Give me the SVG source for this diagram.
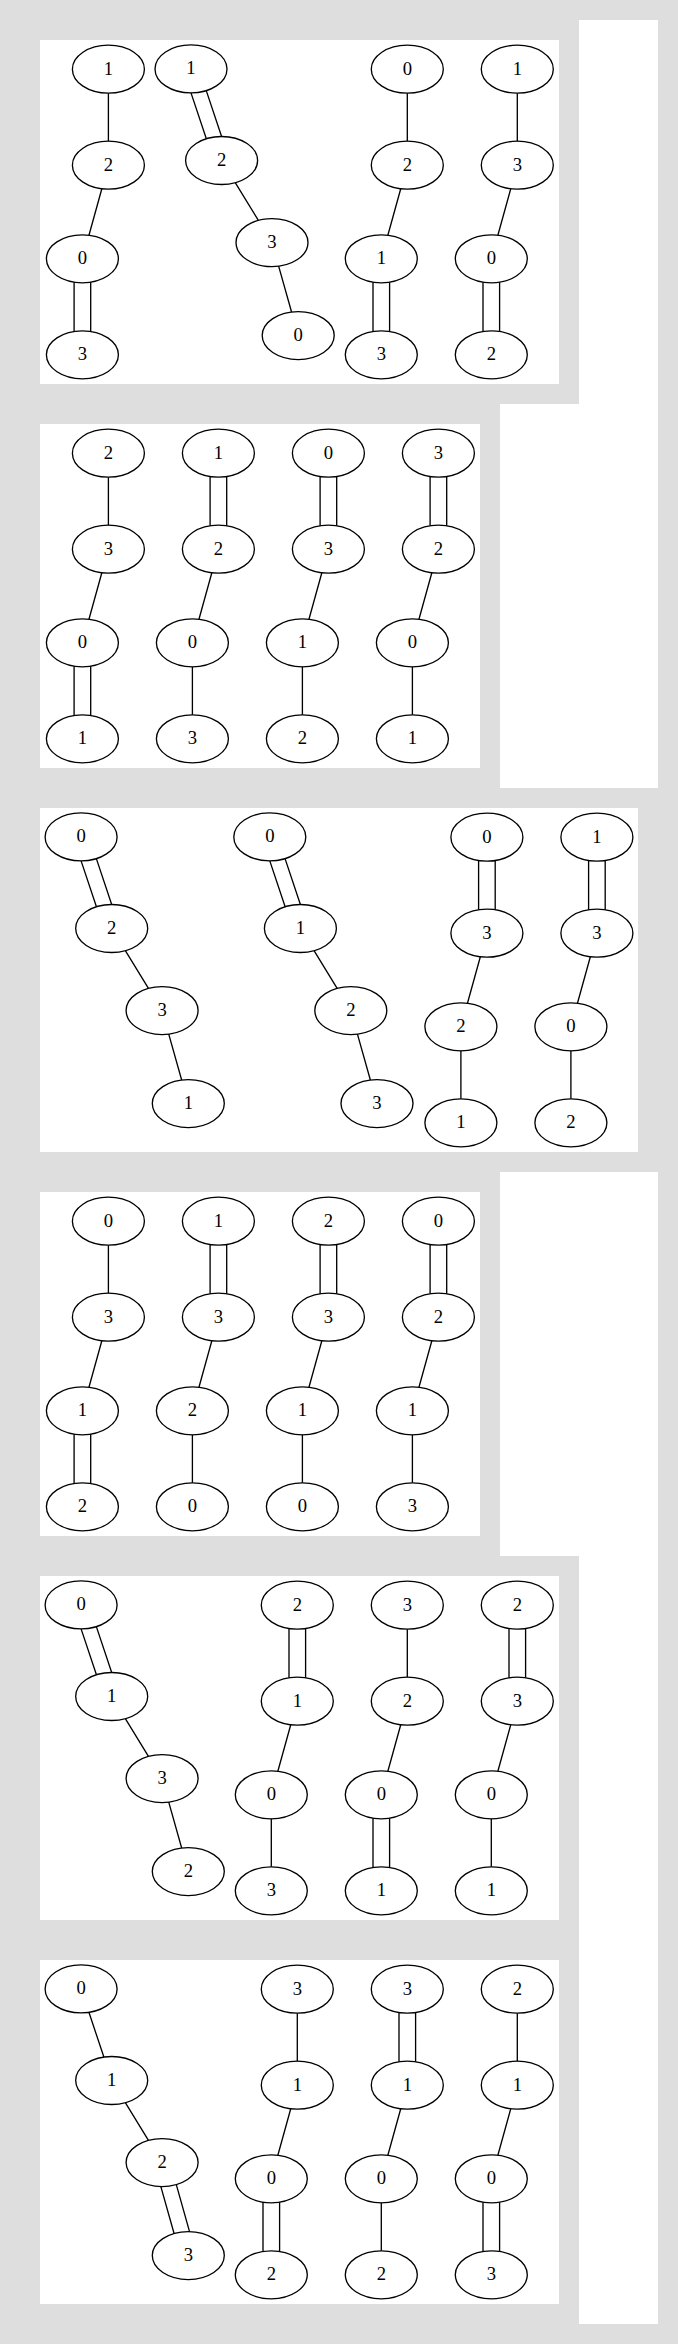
<svg xmlns="http://www.w3.org/2000/svg" width="678" height="2344" viewBox="0 0 678 2344">
<style>
.bg{fill:#dedede}
.wh{fill:#ffffff}
.node ellipse{fill:none;stroke:#000;stroke-width:1.33}
.node text{font-family:"Liberation Serif","Times New Roman",serif;font-size:18.67px;text-anchor:middle;fill:#000}
#connectors path{fill:none;stroke:#000;stroke-width:1.33}
</style>
<rect class="bg" x="0" y="0" width="678" height="2344"/>
<g id="frames">
<rect class="wh" x="579" y="20" width="79" height="384"/>
<rect class="wh" x="500" y="404" width="158" height="384"/>
<rect class="wh" x="500" y="1172" width="158" height="384"/>
<rect class="wh" x="579" y="1556" width="79" height="768"/>
<rect id="panel1" class="wh" x="40" y="40" width="519" height="344"/>
<rect id="panel2" class="wh" x="40" y="424" width="440" height="344"/>
<rect id="panel3" class="wh" x="40" y="808" width="598" height="344"/>
<rect id="panel4" class="wh" x="40" y="1192" width="440" height="344"/>
<rect id="panel5" class="wh" x="40" y="1576" width="519" height="344"/>
<rect id="panel6" class="wh" x="40" y="1960" width="519" height="344"/>
</g>
<g id="connectors">
<g transform="translate(0,40)">
<path d="M108.4 53.2V101.2M101.84 148.8L88.96 195.2M74.1 242.15V291.45M90.7 242.15V291.45"/>
<path d="M191 52.9L206.34 98.77M206.26 50.63L221.6 96.5M235.24 142.71L258.36 180.39M278.64 226.19L291.56 272.01"/>
<path d="M407.3 53.2V101.2M400.74 148.8L387.86 195.2M373 242.15V291.45M389.6 242.15V291.45"/>
<path d="M517.3 53.2V101.2M510.74 148.8L497.86 195.2M483 242.15V291.45M499.6 242.15V291.45"/>
</g>
<g transform="translate(0,424)">
<path d="M108.4 53.2V101.2M101.84 148.8L88.96 195.2M74.1 242.15V291.45M90.7 242.15V291.45"/>
<path d="M210.1 52.55V101.85M226.7 52.55V101.85M211.84 148.8L198.96 195.2M192.4 242.8V290.8"/>
<path d="M320.1 52.55V101.85M336.7 52.55V101.85M321.84 148.8L308.96 195.2M302.4 242.8V290.8"/>
<path d="M430.1 52.55V101.85M446.7 52.55V101.85M431.84 148.8L418.96 195.2M412.4 242.8V290.8"/>
</g>
<g transform="translate(0,808)">
<path d="M81.1 52.9L96.44 98.77M96.36 50.63L111.7 96.5M125.34 142.71L148.46 180.39M168.74 226.19L181.66 272.01"/>
<path d="M269.8 52.9L285.14 98.77M285.06 50.63L300.4 96.5M314.04 142.71L337.16 180.39M357.44 226.19L370.36 272.01"/>
<path d="M478.6 52.55V101.85M495.2 52.55V101.85M480.34 148.8L467.46 195.2M460.9 242.8V290.8"/>
<path d="M588.6 52.55V101.85M605.2 52.55V101.85M590.34 148.8L577.46 195.2M570.9 242.8V290.8"/>
</g>
<g transform="translate(0,1192)">
<path d="M108.4 53.2V101.2M101.84 148.8L88.96 195.2M74.1 242.15V291.45M90.7 242.15V291.45"/>
<path d="M210.1 52.55V101.85M226.7 52.55V101.85M211.84 148.8L198.96 195.2M192.4 242.8V290.8"/>
<path d="M320.1 52.55V101.85M336.7 52.55V101.85M321.84 148.8L308.96 195.2M302.4 242.8V290.8"/>
<path d="M430.1 52.55V101.85M446.7 52.55V101.85M431.84 148.8L418.96 195.2M412.4 242.8V290.8"/>
</g>
<g transform="translate(0,1576)">
<path d="M81.1 52.9L96.44 98.77M96.36 50.63L111.7 96.5M125.34 142.71L148.46 180.39M168.74 226.19L181.66 272.01"/>
<path d="M289 52.55V101.85M305.6 52.55V101.85M290.74 148.8L277.86 195.2M271.3 242.8V290.8"/>
<path d="M407.3 53.2V101.2M400.74 148.8L387.86 195.2M373 242.15V291.45M389.6 242.15V291.45"/>
<path d="M509 52.55V101.85M525.6 52.55V101.85M510.74 148.8L497.86 195.2M491.3 242.8V290.8"/>
</g>
<g transform="translate(0,1960)">
<path d="M88.93 52.33L103.87 97.07M125.34 142.71L148.46 180.39M160.86 226.58L174.09 273.55M176.31 224.65L189.54 271.62"/>
<path d="M297.3 53.2V101.2M290.74 148.8L277.86 195.2M263 242.15V291.45M279.6 242.15V291.45"/>
<path d="M399 52.55V101.85M415.6 52.55V101.85M400.74 148.8L387.86 195.2M381.3 242.8V290.8"/>
<path d="M517.3 53.2V101.2M510.74 148.8L497.86 195.2M483 242.15V291.45M499.6 242.15V291.45"/>
</g>
</g>
<g id="nodes">
<g id="p1a1" class="node" transform="translate(108.4,69.2)"><ellipse rx="36" ry="24"/><text y="5.5">1</text></g>
<g id="p1a2" class="node" transform="translate(108.4,165.2)"><ellipse rx="36" ry="24"/><text y="5.5">2</text></g>
<g id="p1a0" class="node" transform="translate(82.4,258.8)"><ellipse rx="36" ry="24"/><text y="5.5">0</text></g>
<g id="p1a3" class="node" transform="translate(82.4,354.8)"><ellipse rx="36" ry="24"/><text y="5.5">3</text></g>
<g id="p1b1" class="node" transform="translate(191,68.9)"><ellipse rx="36" ry="24"/><text y="5.5">1</text></g>
<g id="p1b2" class="node" transform="translate(221.6,160.5)"><ellipse rx="36" ry="24"/><text y="5.5">2</text></g>
<g id="p1b3" class="node" transform="translate(272,242.6)"><ellipse rx="36" ry="24"/><text y="5.5">3</text></g>
<g id="p1b0" class="node" transform="translate(298.2,335.6)"><ellipse rx="36" ry="24"/><text y="5.5">0</text></g>
<g id="p1c0" class="node" transform="translate(407.3,69.2)"><ellipse rx="36" ry="24"/><text y="5.5">0</text></g>
<g id="p1c2" class="node" transform="translate(407.3,165.2)"><ellipse rx="36" ry="24"/><text y="5.5">2</text></g>
<g id="p1c1" class="node" transform="translate(381.3,258.8)"><ellipse rx="36" ry="24"/><text y="5.5">1</text></g>
<g id="p1c3" class="node" transform="translate(381.3,354.8)"><ellipse rx="36" ry="24"/><text y="5.5">3</text></g>
<g id="p1d1" class="node" transform="translate(517.3,69.2)"><ellipse rx="36" ry="24"/><text y="5.5">1</text></g>
<g id="p1d3" class="node" transform="translate(517.3,165.2)"><ellipse rx="36" ry="24"/><text y="5.5">3</text></g>
<g id="p1d0" class="node" transform="translate(491.3,258.8)"><ellipse rx="36" ry="24"/><text y="5.5">0</text></g>
<g id="p1d2" class="node" transform="translate(491.3,354.8)"><ellipse rx="36" ry="24"/><text y="5.5">2</text></g>

<g id="p2a2" class="node" transform="translate(108.4,453.2)"><ellipse rx="36" ry="24"/><text y="5.5">2</text></g>
<g id="p2a3" class="node" transform="translate(108.4,549.2)"><ellipse rx="36" ry="24"/><text y="5.5">3</text></g>
<g id="p2a0" class="node" transform="translate(82.4,642.8)"><ellipse rx="36" ry="24"/><text y="5.5">0</text></g>
<g id="p2a1" class="node" transform="translate(82.4,738.8)"><ellipse rx="36" ry="24"/><text y="5.5">1</text></g>
<g id="p2b1" class="node" transform="translate(218.4,453.2)"><ellipse rx="36" ry="24"/><text y="5.5">1</text></g>
<g id="p2b2" class="node" transform="translate(218.4,549.2)"><ellipse rx="36" ry="24"/><text y="5.5">2</text></g>
<g id="p2b0" class="node" transform="translate(192.4,642.8)"><ellipse rx="36" ry="24"/><text y="5.5">0</text></g>
<g id="p2b3" class="node" transform="translate(192.4,738.8)"><ellipse rx="36" ry="24"/><text y="5.5">3</text></g>
<g id="p2c0" class="node" transform="translate(328.4,453.2)"><ellipse rx="36" ry="24"/><text y="5.5">0</text></g>
<g id="p2c3" class="node" transform="translate(328.4,549.2)"><ellipse rx="36" ry="24"/><text y="5.5">3</text></g>
<g id="p2c1" class="node" transform="translate(302.4,642.8)"><ellipse rx="36" ry="24"/><text y="5.5">1</text></g>
<g id="p2c2" class="node" transform="translate(302.4,738.8)"><ellipse rx="36" ry="24"/><text y="5.5">2</text></g>
<g id="p2d3" class="node" transform="translate(438.4,453.2)"><ellipse rx="36" ry="24"/><text y="5.5">3</text></g>
<g id="p2d2" class="node" transform="translate(438.4,549.2)"><ellipse rx="36" ry="24"/><text y="5.5">2</text></g>
<g id="p2d0" class="node" transform="translate(412.4,642.8)"><ellipse rx="36" ry="24"/><text y="5.5">0</text></g>
<g id="p2d1" class="node" transform="translate(412.4,738.8)"><ellipse rx="36" ry="24"/><text y="5.5">1</text></g>

<g id="p3a0" class="node" transform="translate(81.1,836.9)"><ellipse rx="36" ry="24"/><text y="5.5">0</text></g>
<g id="p3a2" class="node" transform="translate(111.7,928.5)"><ellipse rx="36" ry="24"/><text y="5.5">2</text></g>
<g id="p3a3" class="node" transform="translate(162.1,1010.6)"><ellipse rx="36" ry="24"/><text y="5.5">3</text></g>
<g id="p3a1" class="node" transform="translate(188.3,1103.6)"><ellipse rx="36" ry="24"/><text y="5.5">1</text></g>
<g id="p3b0" class="node" transform="translate(269.8,836.9)"><ellipse rx="36" ry="24"/><text y="5.5">0</text></g>
<g id="p3b1" class="node" transform="translate(300.4,928.5)"><ellipse rx="36" ry="24"/><text y="5.5">1</text></g>
<g id="p3b2" class="node" transform="translate(350.8,1010.6)"><ellipse rx="36" ry="24"/><text y="5.5">2</text></g>
<g id="p3b3" class="node" transform="translate(377,1103.6)"><ellipse rx="36" ry="24"/><text y="5.5">3</text></g>
<g id="p3c0" class="node" transform="translate(486.9,837.2)"><ellipse rx="36" ry="24"/><text y="5.5">0</text></g>
<g id="p3c3" class="node" transform="translate(486.9,933.2)"><ellipse rx="36" ry="24"/><text y="5.5">3</text></g>
<g id="p3c2" class="node" transform="translate(460.9,1026.8)"><ellipse rx="36" ry="24"/><text y="5.5">2</text></g>
<g id="p3c1" class="node" transform="translate(460.9,1122.8)"><ellipse rx="36" ry="24"/><text y="5.5">1</text></g>
<g id="p3d1" class="node" transform="translate(596.9,837.2)"><ellipse rx="36" ry="24"/><text y="5.5">1</text></g>
<g id="p3d3" class="node" transform="translate(596.9,933.2)"><ellipse rx="36" ry="24"/><text y="5.5">3</text></g>
<g id="p3d0" class="node" transform="translate(570.9,1026.8)"><ellipse rx="36" ry="24"/><text y="5.5">0</text></g>
<g id="p3d2" class="node" transform="translate(570.9,1122.8)"><ellipse rx="36" ry="24"/><text y="5.5">2</text></g>

<g id="p4a0" class="node" transform="translate(108.4,1221.2)"><ellipse rx="36" ry="24"/><text y="5.5">0</text></g>
<g id="p4a3" class="node" transform="translate(108.4,1317.2)"><ellipse rx="36" ry="24"/><text y="5.5">3</text></g>
<g id="p4a1" class="node" transform="translate(82.4,1410.8)"><ellipse rx="36" ry="24"/><text y="5.5">1</text></g>
<g id="p4a2" class="node" transform="translate(82.4,1506.8)"><ellipse rx="36" ry="24"/><text y="5.5">2</text></g>
<g id="p4b1" class="node" transform="translate(218.4,1221.2)"><ellipse rx="36" ry="24"/><text y="5.5">1</text></g>
<g id="p4b3" class="node" transform="translate(218.4,1317.2)"><ellipse rx="36" ry="24"/><text y="5.5">3</text></g>
<g id="p4b2" class="node" transform="translate(192.4,1410.8)"><ellipse rx="36" ry="24"/><text y="5.5">2</text></g>
<g id="p4b0" class="node" transform="translate(192.4,1506.8)"><ellipse rx="36" ry="24"/><text y="5.5">0</text></g>
<g id="p4c2" class="node" transform="translate(328.4,1221.2)"><ellipse rx="36" ry="24"/><text y="5.5">2</text></g>
<g id="p4c3" class="node" transform="translate(328.4,1317.2)"><ellipse rx="36" ry="24"/><text y="5.5">3</text></g>
<g id="p4c1" class="node" transform="translate(302.4,1410.8)"><ellipse rx="36" ry="24"/><text y="5.5">1</text></g>
<g id="p4c0" class="node" transform="translate(302.4,1506.8)"><ellipse rx="36" ry="24"/><text y="5.5">0</text></g>
<g id="p4d0" class="node" transform="translate(438.4,1221.2)"><ellipse rx="36" ry="24"/><text y="5.5">0</text></g>
<g id="p4d2" class="node" transform="translate(438.4,1317.2)"><ellipse rx="36" ry="24"/><text y="5.5">2</text></g>
<g id="p4d1" class="node" transform="translate(412.4,1410.8)"><ellipse rx="36" ry="24"/><text y="5.5">1</text></g>
<g id="p4d3" class="node" transform="translate(412.4,1506.8)"><ellipse rx="36" ry="24"/><text y="5.5">3</text></g>

<g id="p5a0" class="node" transform="translate(81.1,1604.9)"><ellipse rx="36" ry="24"/><text y="5.5">0</text></g>
<g id="p5a1" class="node" transform="translate(111.7,1696.5)"><ellipse rx="36" ry="24"/><text y="5.5">1</text></g>
<g id="p5a3" class="node" transform="translate(162.1,1778.6)"><ellipse rx="36" ry="24"/><text y="5.5">3</text></g>
<g id="p5a2" class="node" transform="translate(188.3,1871.6)"><ellipse rx="36" ry="24"/><text y="5.5">2</text></g>
<g id="p5b2" class="node" transform="translate(297.3,1605.2)"><ellipse rx="36" ry="24"/><text y="5.5">2</text></g>
<g id="p5b1" class="node" transform="translate(297.3,1701.2)"><ellipse rx="36" ry="24"/><text y="5.5">1</text></g>
<g id="p5b0" class="node" transform="translate(271.3,1794.8)"><ellipse rx="36" ry="24"/><text y="5.5">0</text></g>
<g id="p5b3" class="node" transform="translate(271.3,1890.8)"><ellipse rx="36" ry="24"/><text y="5.5">3</text></g>
<g id="p5c3" class="node" transform="translate(407.3,1605.2)"><ellipse rx="36" ry="24"/><text y="5.5">3</text></g>
<g id="p5c2" class="node" transform="translate(407.3,1701.2)"><ellipse rx="36" ry="24"/><text y="5.5">2</text></g>
<g id="p5c0" class="node" transform="translate(381.3,1794.8)"><ellipse rx="36" ry="24"/><text y="5.5">0</text></g>
<g id="p5c1" class="node" transform="translate(381.3,1890.8)"><ellipse rx="36" ry="24"/><text y="5.5">1</text></g>
<g id="p5d2" class="node" transform="translate(517.3,1605.2)"><ellipse rx="36" ry="24"/><text y="5.5">2</text></g>
<g id="p5d3" class="node" transform="translate(517.3,1701.2)"><ellipse rx="36" ry="24"/><text y="5.5">3</text></g>
<g id="p5d0" class="node" transform="translate(491.3,1794.8)"><ellipse rx="36" ry="24"/><text y="5.5">0</text></g>
<g id="p5d1" class="node" transform="translate(491.3,1890.8)"><ellipse rx="36" ry="24"/><text y="5.5">1</text></g>

<g id="p6a0" class="node" transform="translate(81.1,1988.9)"><ellipse rx="36" ry="24"/><text y="5.5">0</text></g>
<g id="p6a1" class="node" transform="translate(111.7,2080.5)"><ellipse rx="36" ry="24"/><text y="5.5">1</text></g>
<g id="p6a2" class="node" transform="translate(162.1,2162.6)"><ellipse rx="36" ry="24"/><text y="5.5">2</text></g>
<g id="p6a3" class="node" transform="translate(188.3,2255.6)"><ellipse rx="36" ry="24"/><text y="5.5">3</text></g>
<g id="p6b3" class="node" transform="translate(297.3,1989.2)"><ellipse rx="36" ry="24"/><text y="5.5">3</text></g>
<g id="p6b1" class="node" transform="translate(297.3,2085.2)"><ellipse rx="36" ry="24"/><text y="5.5">1</text></g>
<g id="p6b0" class="node" transform="translate(271.3,2178.8)"><ellipse rx="36" ry="24"/><text y="5.5">0</text></g>
<g id="p6b2" class="node" transform="translate(271.3,2274.8)"><ellipse rx="36" ry="24"/><text y="5.5">2</text></g>
<g id="p6c3" class="node" transform="translate(407.3,1989.2)"><ellipse rx="36" ry="24"/><text y="5.5">3</text></g>
<g id="p6c1" class="node" transform="translate(407.3,2085.2)"><ellipse rx="36" ry="24"/><text y="5.5">1</text></g>
<g id="p6c0" class="node" transform="translate(381.3,2178.8)"><ellipse rx="36" ry="24"/><text y="5.5">0</text></g>
<g id="p6c2" class="node" transform="translate(381.3,2274.8)"><ellipse rx="36" ry="24"/><text y="5.5">2</text></g>
<g id="p6d2" class="node" transform="translate(517.3,1989.2)"><ellipse rx="36" ry="24"/><text y="5.5">2</text></g>
<g id="p6d1" class="node" transform="translate(517.3,2085.2)"><ellipse rx="36" ry="24"/><text y="5.5">1</text></g>
<g id="p6d0" class="node" transform="translate(491.3,2178.8)"><ellipse rx="36" ry="24"/><text y="5.5">0</text></g>
<g id="p6d3" class="node" transform="translate(491.3,2274.8)"><ellipse rx="36" ry="24"/><text y="5.5">3</text></g>
</g>
</svg>
